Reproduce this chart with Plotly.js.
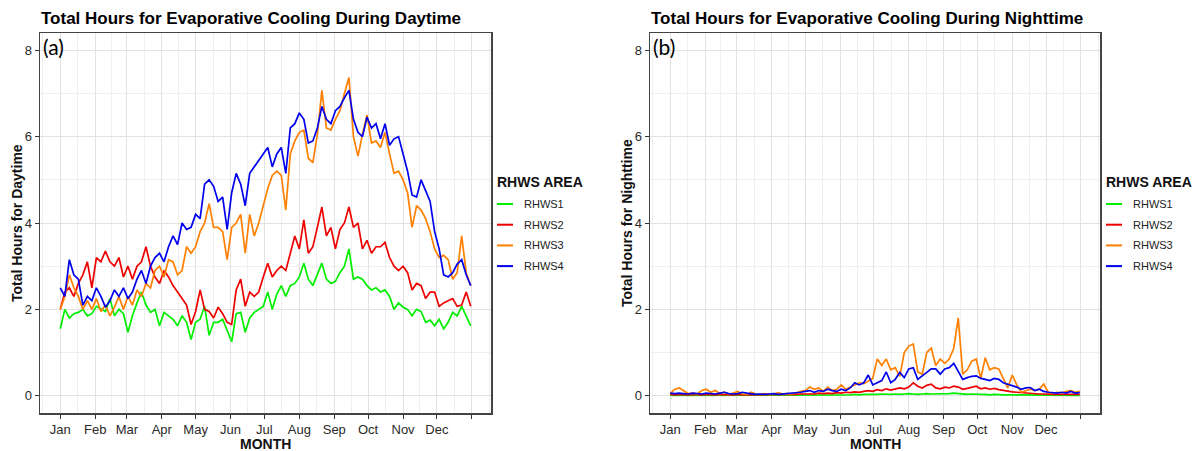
<!DOCTYPE html>
<html>
<head>
<meta charset="utf-8">
<script src="https://cdn.plot.ly/plotly-3.0.1.min.js"></script>
<style>html,body{margin:0;padding:0;background:#fff;}#chart{width:1198px;height:451px;}</style>
</head>
<body>
<div id="chart"></div>
<script>
// ---------- DATA ----------
const seriesNames = ['RHWS1', 'RHWS2', 'RHWS3', 'RHWS4'];
const seriesColors = ['#00ee00', '#ee0000', '#ff8000', '#0000ee'];
const monthLabels = ['Jan','Feb','Mar','Apr','May','Jun','Jul','Aug','Sep','Oct','Nov','Dec',''];
const monthStart = [0,31,59,90,120,151,181,212,243,273,304,334,365];
const yTicks = [0,2,4,6,8];
const yMinor = [1,3,5,7];
const days = [0,4,8,12,16,20,24,28,32,36,40,44,48,52,56,60,64,68,72,76,80,84,88,92,96,100,104,108,112,116,
  120,124,128,132,136,140,144,148,152,156,160,164,168,172,176,180,184,188,192,196,200,204,208,212,216,220,224,228,232,236,
  240,244,248,252,256,260,264,268,272,276,280,284,288,292,296,300,304,308,312,316,320,324,328,332,336,340,344,348,352,356,360,364];

// Daytime (a)
const dayRHWS1 = [1.55,2.0,1.8,1.9,1.93,2.0,1.85,1.9,2.07,2.0,
  1.95,2.25,1.85,2.0,1.9,1.47,1.85,2.15,2.4,2.1,
  1.93,2.0,1.62,1.93,1.85,1.77,1.62,1.85,1.7,1.3,
  1.7,1.77,2.07,1.4,1.7,1.7,1.77,1.5,1.25,1.9,
  1.93,1.47,1.8,1.93,2.0,2.07,2.4,2.0,2.35,2.55,
  2.3,2.55,2.6,2.75,3.07,2.7,2.55,2.8,3.07,2.7,
  2.6,2.65,2.85,3.0,3.4,2.7,2.75,2.7,2.55,2.45,
  2.5,2.4,2.45,2.3,2.0,2.15,2.05,2.0,1.85,2.0,
  1.95,1.7,1.75,1.62,1.77,1.55,1.7,1.93,1.85,2.07,
  1.85,1.62];
const dayRHWS2 = [2.0,2.4,2.5,2.3,2.6,2.8,3.1,2.5,3.2,3.1,
  3.35,3.1,3.0,3.2,2.75,3.0,2.7,3.0,3.1,3.45,
  3.0,2.75,2.6,2.9,2.75,2.55,2.4,2.25,2.1,1.65,
  1.95,2.45,2.0,1.95,1.8,2.05,1.9,1.7,1.65,2.45,
  2.7,2.07,2.4,2.3,2.4,2.75,3.07,2.75,2.9,3.0,
  2.9,3.3,3.7,3.4,4.07,3.3,3.45,3.9,4.37,3.7,
  3.9,3.4,3.85,4.0,4.37,3.9,4.0,3.4,3.6,3.3,
  3.45,3.45,3.55,3.2,3.0,2.9,3.0,2.85,2.45,2.6,
  2.55,2.25,2.4,2.4,2.07,2.15,2.2,2.25,2.07,2.1,
  2.4,2.07];
const dayRHWS3 = [2.0,2.3,2.8,2.5,2.3,2.0,2.2,2.0,2.25,1.95,
  2.1,1.85,2.05,2.3,2.0,2.3,2.1,2.45,2.3,2.6,
  2.5,2.9,3.0,2.75,3.15,3.1,2.8,2.9,3.45,3.3,
  3.45,3.8,4.0,4.45,3.9,3.9,3.8,3.15,3.9,4.0,
  4.2,3.3,4.2,3.7,4.0,4.4,4.8,5.1,5.2,5.1,
  4.3,5.6,5.9,6.1,6.15,5.5,5.4,6.05,7.07,6.2,
  6.15,6.4,6.6,7.0,7.37,6.0,5.55,6.05,6.5,5.85,
  5.9,5.75,6.1,5.6,5.15,5.2,5.0,4.7,3.9,4.4,
  4.3,4.1,3.8,3.4,3.2,3.25,3.15,2.7,2.85,3.7,
  2.85,2.55];
const dayRHWS4 = [2.5,2.3,3.15,2.8,2.7,2.1,2.3,2.2,2.5,2.3,
  2.05,2.2,2.45,2.3,2.5,2.25,2.4,2.7,2.9,2.6,
  3.0,3.2,3.3,3.1,3.45,3.7,3.5,4.0,3.85,3.9,
  4.2,4.1,4.9,5.0,4.85,4.5,4.6,3.85,4.7,5.15,
  4.9,4.4,5.15,5.3,5.45,5.6,5.75,5.3,5.6,5.75,
  5.15,6.2,6.3,6.55,6.4,5.85,5.9,6.2,6.7,6.4,
  6.3,6.6,6.7,6.9,7.07,6.4,6.1,6.0,6.45,6.2,
  6.3,5.95,6.3,5.8,5.95,6.0,5.6,5.2,4.65,4.6,
  5.0,4.75,4.5,3.8,3.4,2.8,2.75,2.85,3.05,3.15,
  2.8,2.55];

// Nighttime (b)
const nightRHWS1 = [0.01,0.01,0.01,0.01,0.01,0.01,0.01,0.01,0.01,0.01,
  0.01,0.01,0.01,0.01,0.01,0.01,0.01,0.01,0.01,0.01,
  0.01,0.01,0.01,0.01,0.01,0.01,0.01,0.01,0.01,0.01,
  0.01,0.02,0.01,0.02,0.01,0.02,0.02,0.01,0.02,0.02,
  0.02,0.03,0.02,0.03,0.03,0.02,0.03,0.04,0.03,0.03,
  0.04,0.03,0.04,0.05,0.04,0.03,0.04,0.05,0.04,0.04,
  0.05,0.04,0.05,0.06,0.05,0.04,0.03,0.04,0.03,0.03,
  0.03,0.02,0.03,0.02,0.02,0.02,0.02,0.01,0.02,0.01,
  0.01,0.01,0.01,0.01,0.01,0.01,0.01,0.01,0.01,0.01,
  0.01,0.01];
const nightRHWS2 = [0.03,0.02,0.03,0.02,0.02,0.03,0.02,0.02,0.03,0.02,
  0.02,0.03,0.02,0.02,0.02,0.03,0.02,0.02,0.02,0.02,
  0.02,0.02,0.02,0.03,0.02,0.02,0.03,0.02,0.03,0.04,
  0.04,0.05,0.04,0.06,0.05,0.06,0.05,0.07,0.06,0.08,
  0.07,0.09,0.08,0.1,0.12,0.1,0.14,0.12,0.16,0.13,
  0.15,0.18,0.16,0.2,0.3,0.22,0.18,0.24,0.27,0.18,
  0.16,0.2,0.18,0.22,0.2,0.15,0.17,0.2,0.22,0.16,
  0.18,0.15,0.17,0.14,0.12,0.1,0.09,0.08,0.07,0.06,
  0.05,0.05,0.04,0.04,0.03,0.03,0.03,0.03,0.02,0.03,
  0.02,0.03];
const nightRHWS3 = [0.05,0.15,0.18,0.12,0.05,0.06,0.04,0.12,0.15,0.08,
  0.12,0.05,0.08,0.04,0.06,0.1,0.04,0.03,0.08,0.04,
  0.03,0.05,0.03,0.04,0.07,0.04,0.05,0.04,0.06,0.1,
  0.12,0.2,0.15,0.18,0.1,0.2,0.12,0.15,0.25,0.15,
  0.2,0.25,0.3,0.28,0.35,0.4,0.85,0.7,0.85,0.6,
  0.65,0.45,1.0,1.15,1.2,0.55,0.5,1.0,1.1,0.7,
  0.85,0.75,0.85,1.1,1.8,0.5,0.6,0.8,0.85,0.4,
  0.88,0.6,0.65,0.62,0.4,0.18,0.48,0.25,0.08,0.12,
  0.15,0.12,0.15,0.27,0.08,0.05,0.08,0.06,0.1,0.12,
  0.08,0.1];
const nightRHWS4 = [0.06,0.05,0.06,0.05,0.04,0.06,0.05,0.04,0.06,0.05,
  0.04,0.06,0.08,0.05,0.04,0.05,0.08,0.06,0.04,0.03,
  0.04,0.03,0.04,0.05,0.03,0.04,0.04,0.05,0.06,0.08,
  0.1,0.12,0.08,0.12,0.1,0.15,0.12,0.1,0.15,0.12,
  0.18,0.3,0.25,0.3,0.48,0.25,0.3,0.35,0.55,0.3,
  0.38,0.54,0.42,0.62,0.65,0.38,0.46,0.55,0.62,0.62,
  0.5,0.62,0.65,0.75,0.58,0.38,0.42,0.45,0.46,0.4,
  0.38,0.35,0.4,0.38,0.3,0.27,0.23,0.2,0.15,0.18,
  0.19,0.12,0.15,0.1,0.08,0.07,0.06,0.08,0.06,0.1,
  0.06,0.07];

const daySeries = [dayRHWS1, dayRHWS2, dayRHWS3, dayRHWS4];
const nightSeries = [nightRHWS1, nightRHWS2, nightRHWS3, nightRHWS4];

// ---------- LAYOUT ----------
const W = 1198, H = 451;
const F = '"Liberation Sans", Arial, sans-serif';
const px = v => v / W, py = v => 1 - v / H;

const traces = [];
daySeries.forEach((vals, i) => traces.push({
  type: 'scatter', mode: 'lines', x: days, y: vals, name: seriesNames[i],
  xaxis: 'x', yaxis: 'y', line: {color: seriesColors[i], width: 1.7}, showlegend: false
}));
nightSeries.forEach((vals, i) => traces.push({
  type: 'scatter', mode: 'lines', x: days, y: vals, name: seriesNames[i],
  xaxis: 'x2', yaxis: 'y2', line: {color: seriesColors[i], width: 1.7}, showlegend: false
}));

// minor gridlines at midpoints between month breaks (ggplot style)
const ext = [-31].concat(monthStart, [396]);
const minorX = [];
for (let i = 0; i < ext.length - 1; i++) {
  const m = (ext[i] + ext[i + 1]) / 2;
  if (m > -18 && m < 382) minorX.push(m);
}

function xAx(dom, anchor) {
  return {
    domain: dom, anchor: anchor, range: [-18, 382],
    tickmode: 'array', tickvals: monthStart, ticktext: monthLabels,
    ticks: 'outside', ticklen: 4, tickwidth: 1, tickcolor: '#333',
    tickfont: {family: F, size: 13, color: '#2a2a2a'},
    showline: true, mirror: true, linecolor: '#444', linewidth: 1.5,
    showgrid: true, gridcolor: '#e2e2e2', gridwidth: 1, zeroline: false,
    minor: {tickmode: 'array', tickvals: minorX, showgrid: true, gridcolor: '#ebebeb', gridwidth: 0.8, ticks: ''},
    fixedrange: true
  };
}
function yAx(anchor) {
  return {
    domain: [py(413), py(33)], anchor: anchor, range: [-0.4, 8.4],
    tickmode: 'array', tickvals: yTicks, ticktext: yTicks.map(String),
    ticks: 'outside', ticklen: 4, tickwidth: 1, tickcolor: '#333',
    tickfont: {family: F, size: 13, color: '#2a2a2a'},
    showline: true, mirror: true, linecolor: '#444', linewidth: 1.5,
    showgrid: true, gridcolor: '#e2e2e2', gridwidth: 1, zeroline: false,
    minor: {tickmode: 'array', tickvals: yMinor, showgrid: true, gridcolor: '#ebebeb', gridwidth: 0.8, ticks: ''},
    fixedrange: true
  };
}

const annotations = [];
const shapes = [];
function txt(x, y, text, size, opts) {
  annotations.push(Object.assign({
    xref: 'paper', yref: 'paper', x: px(x), y: py(y), text: text, showarrow: false,
    xanchor: 'left', yanchor: 'middle',
    font: {family: F, size: size, color: '#111'}
  }, opts || {}));
}
// panel titles
txt(39, 18, 'Total Hours for Evaporative Cooling During Daytime', 17, {font: {family: F, size: 17, color: '#000', weight: 'bold'}});
txt(649, 18, 'Total Hours for Evaporative Cooling During Nighttime', 17, {font: {family: F, size: 17, color: '#000', weight: 'bold'}});
// panel labels
txt(41, 46, '(a)', 20, {font: {family: 'Lato, "Open Sans", sans-serif', size: 21, color: '#000'}});
txt(651, 46, '(b)', 20, {font: {family: 'Lato, "Open Sans", sans-serif', size: 21, color: '#000'}});
// axis titles
txt(265, 444, 'MONTH', 14, {xanchor: 'center', font: {family: F, size: 14, color: '#111', weight: 'bold'}});
txt(875, 444, 'MONTH', 14, {xanchor: 'center', font: {family: F, size: 14, color: '#111', weight: 'bold'}});
txt(17, 223, 'Total Hours for Daytime', 14, {xanchor: 'center', textangle: -90, font: {family: F, size: 14, color: '#111', weight: 'bold'}});
txt(627, 223, 'Total Hours for Nighttime', 14, {xanchor: 'center', textangle: -90, font: {family: F, size: 14, color: '#111', weight: 'bold'}});

// legends
function legend(x0) {
  txt(x0 - 2, 182, 'RHWS AREA', 14, {font: {family: F, size: 14, color: '#111', weight: 'bold'}});
  seriesNames.forEach((n, i) => {
    const yy = 204 + i * 20.7;
    shapes.push({type: 'line', xref: 'paper', yref: 'paper', x0: px(x0), x1: px(x0 + 16), y0: py(yy), y1: py(yy),
      line: {color: seriesColors[i], width: 2}});
    txt(x0 + 25, yy, n, 11, {font: {family: F, size: 11, color: '#222'}});
  });
}
legend(497);
legend(1106);

const layout = {
  width: W, height: H, margin: {l: 0, r: 0, t: 0, b: 0},
  paper_bgcolor: '#ffffff', plot_bgcolor: '#ffffff', showlegend: false,
  xaxis: xAx([px(40), px(491)], 'y'),
  yaxis: yAx('x'),
  xaxis2: xAx([px(650), px(1100)], 'y2'),
  yaxis2: yAx('x2'),
  annotations: annotations, shapes: shapes
};

Plotly.newPlot('chart', traces, layout, {displayModeBar: false, staticPlot: true});
</script>
</body>
</html>
